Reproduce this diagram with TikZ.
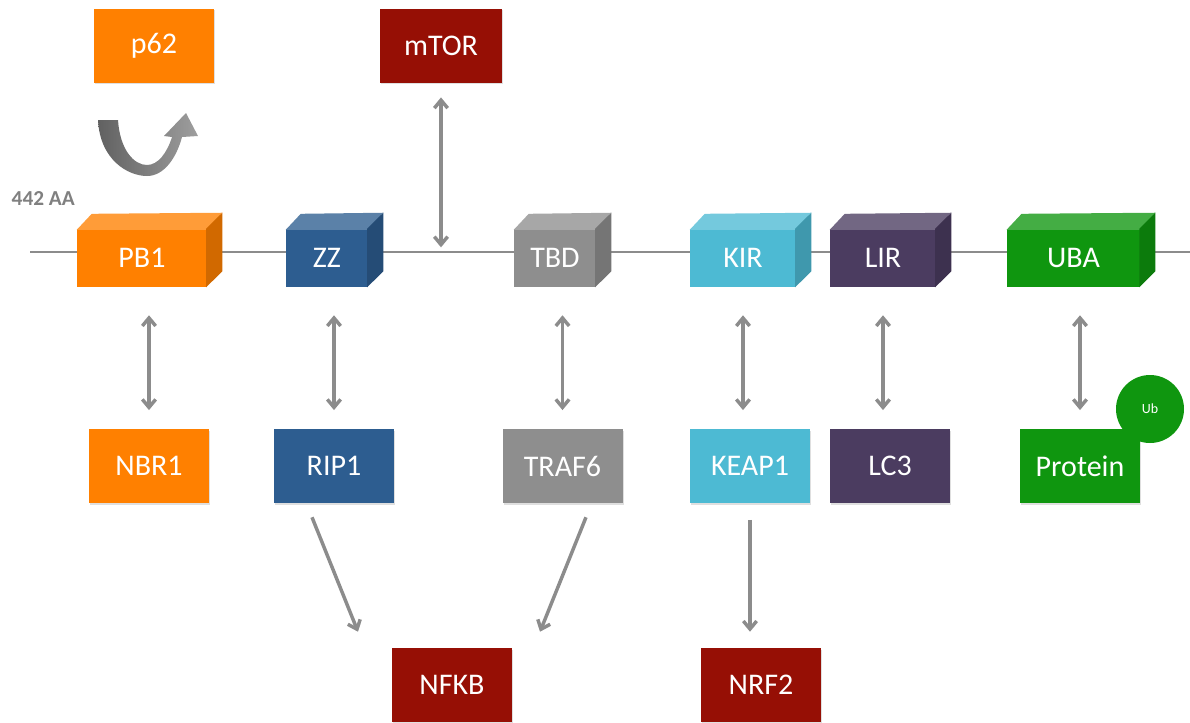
\documentclass[tikz,border=0pt]{standalone}
\usepackage{fontspec}
\setmainfont{Carlito}
\usetikzlibrary{arrows.meta}
\usetikzlibrary{shadows}

\definecolor{orng}{HTML}{FF8000}
\definecolor{blu}{HTML}{2D5D90}
\definecolor{gry}{HTML}{8E8E8E}
\definecolor{cyn}{HTML}{4DBAD3}
\definecolor{prpl}{HTML}{4B3C60}
\definecolor{grn}{HTML}{0F960F}
\definecolor{drd}{HTML}{960F05}
\definecolor{lne}{HTML}{8C8C8C}

\begin{document}
\begin{tikzpicture}[x=0.75pt,y=-0.75pt,
  box/.style={inner sep=0pt, minimum width=90pt, minimum height=55.5pt, text=white,
    font=\fontsize{22.5}{26}\selectfont, drop shadow={shadow xshift=0.8pt, shadow yshift=-1.2pt, opacity=0.25}},
  dom/.style={inner sep=0pt, minimum height=43.5pt, text=white, font=\fontsize{22.5}{26}\selectfont},
  dbl/.style={{Straight Barb[length=6pt,width=10pt]}-{Straight Barb[length=6pt,width=10pt]}, lne, line width=2.6pt},
  one/.style={-{Straight Barb[length=6pt,width=10pt]}, lne, line width=2.6pt}]
\useasboundingbox (0,0) rectangle (1190,722);

% backbone
\coordinate (bbL) at (30,252);
\coordinate (bbR) at (1190,252);
\draw[lne, line width=2.2pt] (bbL) -- (bbR);
\node[anchor=west, text=gray, font=\fontsize{16}{18}\selectfont\bfseries] (aa) at (7,198) {442 AA};

% domains on the chain
\node[dom, fill=orng, minimum width=97.5pt] (pb1) at (142,258) {PB1};
\node[dom, fill=blu, minimum width=61.5pt] (zz) at (327,258) {ZZ};
\node[dom, fill=gry, minimum width=61.5pt] (tbd) at (555,258) {TBD};
\node[dom, fill=cyn, minimum width=79.5pt] (kir) at (743,258) {KIR};
\node[dom, fill=prpl, minimum width=79.5pt] (lir) at (883,258) {LIR};
\node[dom, fill=grn, minimum width=100pt] (uba) at (1073.5,258) {UBA};

\foreach \n/\c in {pb1/orng, zz/blu, tbd/gry, kir/cyn, lir/prpl, uba/grn}{
  \fill[\c!78!white] ([yshift=-0.8pt]\n.north west) -- ++(15,-16) -- ([shift={(15,-16)}]\n.north east) -- ([yshift=-0.8pt]\n.north east) -- cycle;
  \fill[\c!82!black] ([xshift=-0.8pt]\n.north east) -- ([shift={(15,-16)}]\n.north east) -- ([shift={(15,-16)}]\n.south east) -- ([xshift=-0.8pt]\n.south east) -- cycle;
}

% top row
\node[box, fill=orng] (p62) at (154,45.5) {p62};
\node[box, fill=drd, minimum width=91.5pt] (mtor) at (441,45.5) {mTOR};

% turning arrow under p62
\shade[left color=black!62, right color=black!38]
  (98,120) .. controls (100,160) and (128,176) .. (147,176)
  .. controls (165,176) and (177,156) .. (182,137) -- (198,136) -- (186,113) -- (164,136) -- (172,137)
  .. controls (167,153) and (158,165) .. (147,165)
  .. controls (134,165) and (120,150) .. (118,120) -- cycle;

% bottom row
\node[box, fill=orng] (nbr1) at (149,466) {NBR1};
\node[box, fill=blu] (rip1) at (334,466) {RIP1};
\node[box, fill=gry] (traf6) at (562.5,466) {TRAF6};
\node[box, fill=cyn] (keap1) at (750,466) {KEAP1};
\node[box, fill=prpl] (lc3) at (890,466) {LC3};
\node[box, fill=grn] (protein) at (1080,466) {Protein};
\node[circle, fill=grn, minimum size=51pt, inner sep=0pt, text=white, font=\fontsize{10.5}{12}\selectfont] (ub) at (1150,409) {Ub};

\node[box, fill=drd] (nfkb) at (452,685) {NFKB};
\node[box, fill=drd] (nrf2) at (761,685) {NRF2};

% interactions
\draw[dbl, shorten <=11pt, shorten >=3.5pt] (mtor.south) -- (mtor.south |- bbL);
\draw[dbl, shorten <=21pt, shorten >=14pt] (nbr1.north |- pb1.south) -- (nbr1.north);
\draw[dbl, shorten <=21pt, shorten >=14pt] (rip1.north |- zz.south) -- (rip1.north);
\draw[dbl, shorten <=21pt, shorten >=14pt] (traf6.north |- tbd.south) -- (traf6.north);
\draw[dbl, shorten <=21pt, shorten >=14pt] (kir.south) -- (kir.south |- keap1.north);
\draw[dbl, shorten <=21pt, shorten >=14pt] (lir.south) -- (lir.south |- lc3.north);
\draw[dbl, shorten <=21pt, shorten >=14pt] (protein.north |- uba.south) -- (protein.north);

\draw[one] ([shift={(-22,14)}]rip1.south) -- ([shift={(-94,-16)}]nfkb.north);
\draw[one] ([shift={(23.5,14)}]traf6.south) -- ([shift={(88,-16)}]nfkb.north);
\draw[one, shorten <=12.5pt, shorten >=12pt] (keap1.south) -- (keap1.south |- nrf2.north);
\end{tikzpicture}
\end{document}
